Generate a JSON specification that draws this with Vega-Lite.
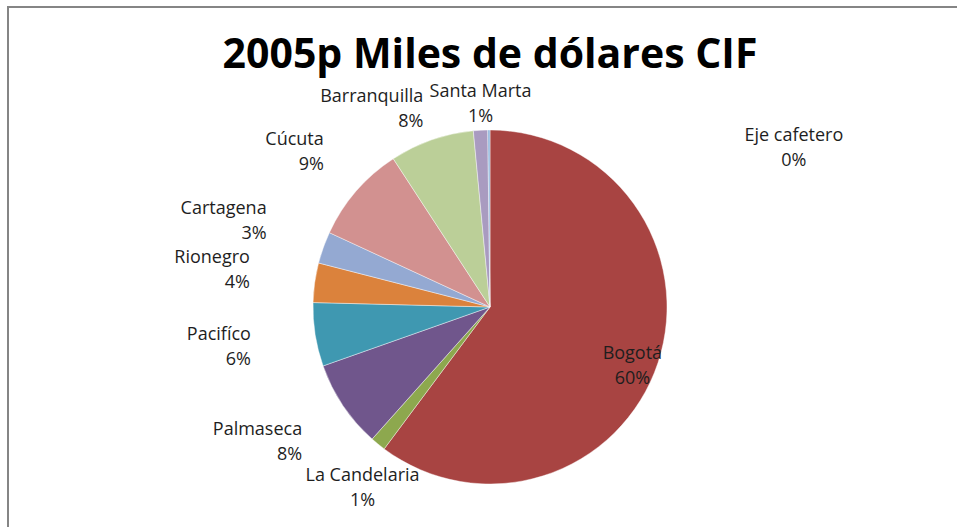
{
  "$schema": "https://vega.github.io/schema/vega-lite/v6.json",
  "autosize": {"type": "none"},
  "padding": {"left": 8, "top": 7, "right": 0, "bottom": 0},
  "width": 964,
  "height": 600,
  "background": "white",
  "view": {"stroke": "#858585", "strokeWidth": 2},
  "config": {
    "view": {"stroke": "#858585", "strokeWidth": 2},
    "text": {"font": "Open Sans"}
  },
  "title": {
    "text": "2005p Miles de dólares CIF",
    "font": "Open Sans",
    "fontSize": 41,
    "fontWeight": "bold",
    "color": "#000000",
    "frame": "group",
    "anchor": "middle",
    "baseline": "alphabetic",
    "offset": -102
  },
  "data": {
    "values": [
      {"name": "Bogotá", "value": 60.2},
      {"name": "La Candelaria", "value": 1.4},
      {"name": "Palmaseca", "value": 8.0},
      {"name": "Pacifíco", "value": 5.8},
      {"name": "Rionegro", "value": 3.6},
      {"name": "Cartagena", "value": 2.9},
      {"name": "Cúcuta", "value": 8.9},
      {"name": "Barranquilla", "value": 7.7},
      {"name": "Santa Marta", "value": 1.3},
      {"name": "Eje cafetero", "value": 0.2}
    ]
  },
  "transform": [
    {"window": [{"op": "row_number", "as": "idx"}]},
    {"stack": "value", "groupby": [], "sort": [{"field": "idx", "order": "ascending"}], "offset": "normalize", "as": ["t0", "t1"]},
    {"calculate": "(datum.t0 + datum.t1) / 2", "as": "tm"},
    {"calculate": "datum.t1 - datum.t0", "as": "share"},
    {"calculate": "datum.name + '\\n' + format(datum.share, '.0%')", "as": "label"}
  ],
  "layer": [
    {
      "mark": {"type": "arc", "radius": 177, "stroke": "#ffffff", "strokeWidth": 0.6, "strokeOpacity": 0.7},
      "encoding": {
        "theta": {"field": "t0", "type": "quantitative", "scale": {"domain": [0, 1]}},
        "theta2": {"field": "t1"},
        "color": {
          "field": "name",
          "type": "nominal",
          "legend": null,
          "scale": {
            "domain": ["Bogotá", "La Candelaria", "Palmaseca", "Pacifíco", "Rionegro", "Cartagena", "Cúcuta", "Barranquilla", "Santa Marta", "Eje cafetero"],
            "range": ["#A84442", "#8DA84E", "#70568C", "#3F98B1", "#DB823C", "#94A9D2", "#D29190", "#BBCF98", "#A99BC0", "#8FB6DC"]
          }
        }
      }
    },
    {
      "transform": [
        {"filter": "datum.share < 0.5"},
        {"calculate": "sin(2 * PI * datum.tm)", "as": "s"},
        {"calculate": "cos(2 * PI * datum.tm)", "as": "c"},
        {"calculate": "177.5 + 60 * datum.s * datum.s", "as": "lr"},
        {"calculate": "(datum.c < 0 ? abs(datum.s) < 0.7 : abs(datum.s) < 0.25) ? 'center' : (datum.s < 0 ? 'right' : 'left')", "as": "al"}
      ],
      "mark": {
        "type": "text",
        "fontSize": 18,
        "lineHeight": 25,
        "lineBreak": "\n",
        "color": "#1e1e1e",
        "baseline": "middle",
        "align": {"expr": "datum.al"},
        "dx": {"expr": "datum.share < 0.005 ? 305 : (datum.al == 'right' ? -6 : (datum.al == 'left' ? 6 : 0))"},
        "dy": {"expr": "datum.share < 0.005 ? 6 : ((datum.al == 'center' ? (datum.c > 0 ? -25 : 25) : -datum.c * 25) - 12.5)"}
      },
      "encoding": {
        "theta": {"field": "tm", "type": "quantitative", "scale": {"domain": [0, 1]}},
        "radius": {"field": "lr", "type": "quantitative", "scale": null},
        "text": {"field": "label"}
      }
    },
    {
      "transform": [{"filter": "datum.share >= 0.5"}],
      "mark": {
        "type": "text",
        "radius": 150,
        "fontSize": 18,
        "lineHeight": 25,
        "lineBreak": "\n",
        "color": "#1e1e1e",
        "align": "center",
        "baseline": "middle"
      },
      "encoding": {
        "theta": {"field": "tm", "type": "quantitative", "scale": {"domain": [0, 1]}},
        "text": {"field": "label"}
      }
    }
  ]
}
